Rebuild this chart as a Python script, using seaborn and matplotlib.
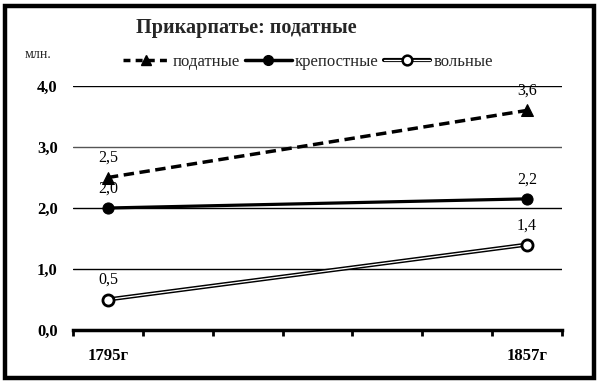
import matplotlib
matplotlib.use("Agg")
import matplotlib.pyplot as plt
import matplotlib.patheffects as pe
from matplotlib.lines import Line2D
from matplotlib.patches import Rectangle
from matplotlib.ticker import FuncFormatter, FixedLocator
import seaborn as sns
import pandas as pd

# ---- data ----
categories = ["1795г", "", "", "", "", "", "1857г"]
years = ["1795г", "1857г"]
podatnye = [2.5, 3.6]
krepostnye = [2.0, 2.15]
volnye = [0.5, 1.4]
labels_podatnye = ["2,5", "3,6"]
labels_krepostnye = ["2,0", "2,2"]
labels_volnye = ["0,5", "1,4"]
title = "Прикарпатье: податные"
unit = "млн."
series_names = ["податные", "крепостные", "вольные"]

sns.set_theme(style="white")
plt.rcParams['font.family'] = ['Liberation Serif', 'DejaVu Serif']

pos = [categories.index(y) for y in years]
df = pd.DataFrame({"x": pos * 3,
                   "v": podatnye + krepostnye + volnye,
                   "s": [series_names[0]] * 2 + [series_names[1]] * 2 + [series_names[2]] * 2})

fig = plt.figure(figsize=(6.0, 3.83), dpi=100)
ax = fig.add_axes([73 / 600, 1 - 330 / 383, 489 / 600, 244 / 383])

# gridlines
for yv, c in [(1, "black"), (2, "black"), (3, "#555555"), (4, "black")]:
    ax.axhline(yv, color=c, lw=1.0, zorder=1)

d = df[df.s == series_names[0]]
sns.lineplot(data=d, x="x", y="v", ax=ax, color="black", lw=2.5, linestyle=(0, (3, 1.6)),
             marker="^", markersize=8, markeredgecolor="black", zorder=3, legend=False)
d = df[df.s == series_names[1]]
sns.lineplot(data=d, x="x", y="v", ax=ax, color="black", lw=2.3,
             marker="o", markersize=8, markeredgecolor="black", zorder=3, legend=False)
d = df[df.s == series_names[2]]
sns.lineplot(data=d, x="x", y="v", ax=ax, color="white", lw=0.9,
             zorder=3, legend=False,
             path_effects=[pe.Stroke(linewidth=3.0, foreground="black"), pe.Normal()])
ax.plot(d["x"], d["v"], linestyle="none", marker="o", markersize=8,
        markerfacecolor="white", markeredgecolor="black", markeredgewidth=2, zorder=4)

# data labels
for vals, labs in [(podatnye, labels_podatnye), (krepostnye, labels_krepostnye), (volnye, labels_volnye)]:
    for xp, v, lab in zip(pos, vals, labs):
        ax.annotate(lab, (xp, v), xytext=(0, 14), textcoords="offset points",
                    ha="center", va="center", fontsize=11.5, color="black", zorder=5)

ax.set_xlim(-0.5, len(categories) - 0.5)
ax.set_ylim(0, 4)
ax.set_xticks(pos)
ax.set_xticklabels(years, fontsize=12, fontweight="bold")
ax.xaxis.set_minor_locator(FixedLocator([i - 0.5 for i in range(len(categories) + 1)]))
ax.tick_params(axis="x", which="major", length=0, pad=13, colors="black")
ax.tick_params(axis="x", which="minor", length=4, width=2, direction="out", bottom=True, color="black")
ax.set_yticks([0, 1, 2, 3, 4])
ax.yaxis.set_major_formatter(FuncFormatter(lambda v, p: f"{v:.1f}".replace(".", ",")))
ax.tick_params(axis="y", length=0, pad=11, labelsize=12, colors="black")
for t in ax.get_yticklabels():
    t.set_fontweight("bold")
ax.set_xlabel("")
ax.set_ylabel("")
for s in ["top", "right", "left"]:
    ax.spines[s].set_visible(False)
ax.spines["bottom"].set_color("black")
ax.spines["bottom"].set_linewidth(2.5)

# legend
h1 = Line2D([], [], color="black", lw=2.5, linestyle=(0, (2, 1.5)), marker="^", markersize=7)
h2 = Line2D([], [], color="black", lw=2.5, marker="o", markersize=7)
h3a = Line2D([], [], color="white", lw=0.9,
             path_effects=[pe.Stroke(linewidth=3.0, foreground="black"), pe.Normal()])
h3b = Line2D([], [], linestyle="none", marker="o", markersize=7, markerfacecolor="white",
             markeredgecolor="black", markeredgewidth=1.8)
fig.legend([h1, h2, (h3a, h3b)], series_names, loc="center", bbox_to_anchor=(308 / 600, 1 - 62 / 383),
           ncol=3, frameon=False, fontsize=12, handlelength=2.8, handletextpad=0.2,
           columnspacing=0.3)

fig.text(246 / 600, 1 - 28 / 383, title, ha="center", va="center", fontsize=14.5, fontweight="bold")
fig.text(38 / 600, 1 - 55 / 383, unit, ha="center", va="center", fontsize=10)

fig.patches.append(Rectangle((5 / 600, 5 / 383), 589 / 600, 372 / 383, transform=fig.transFigure,
                             fill=False, edgecolor="black", lw=3.2, figure=fig))

fig.savefig("out.png", dpi=100, facecolor="white")
